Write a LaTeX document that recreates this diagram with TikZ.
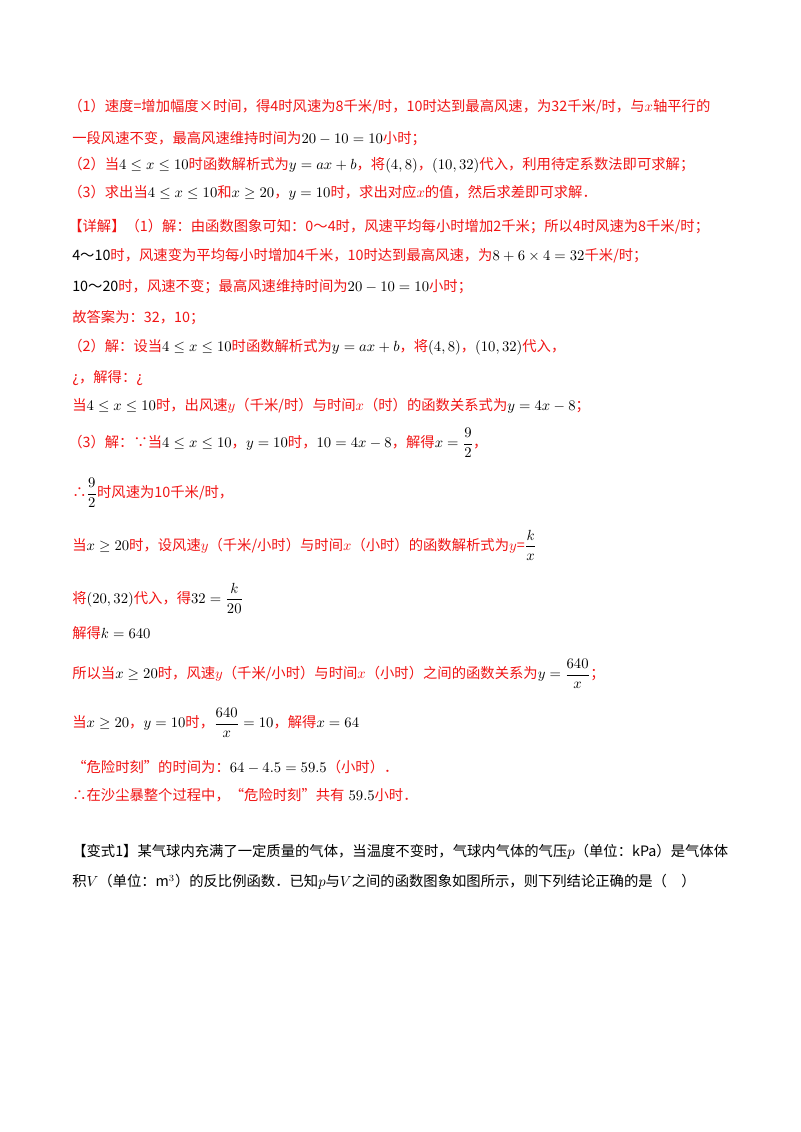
\documentclass[tikz,border=0pt]{standalone}
\usepackage{fontspec}
\usepackage{amsmath,amssymb}
\setmainfont{Noto Sans CJK SC}
\definecolor{ansred}{RGB}{240,20,20}
\newcommand{\mb}[1]{\textcolor{black}{$#1$}}
\tikzset{
    ln/.style={anchor=west, inner sep=0pt, font=\fontsize{10.7}{12.8}\selectfont},
    rl/.style={ln, text=ansred},
}
\begin{document}
\begin{tikzpicture}[x=0.02625cm, y=-0.02625cm]
    \useasboundingbox (0,0) rectangle (800,1132);

    \node[rl] (a1) at (68,107) {（1）速度=增加幅度×时间，得4时风速为8千米/时，10时达到最高风速，为32千米/时，与$x$轴平行的};
    \node[rl] (a2) at (72,139) {一段风速不变，最高风速维持时间为\mb{20-10=10}小时；};
    \node[rl] (a3) at (68,165) {（2）当\mb{4\le x\le 10}时函数解析式为\mb{y=ax+b}，将\mb{(4,8)}，\mb{(10,32)}代入，利用待定系数法即可求解；};
    \node[rl] (a4) at (68,193) {（3）求出当\mb{4\le x\le 10}和\mb{x\ge 20}，\mb{y=10}时，求出对应$x$的值，然后求差即可求解．};
    \node[rl] (b1) at (68,227) {【详解】（1）解：由函数图象可知：0～4时，风速平均每小时增加2千米；所以4时风速为8千米/时；};
    \node[rl] (b2) at (72,256) {\textcolor{black}{4～10}时，风速变为平均每小时增加4千米，10时达到最高风速，为\mb{8+6\times 4=32}千米/时；};
    \node[rl] (b3) at (72,287) {\textcolor{black}{10～20}时，风速不变；最高风速维持时间为\mb{20-10=10}小时；};
    \node[rl] (b4) at (72,318) {故答案为：32，10；};
    \node[rl] (c1) at (68,347) {（2）解：设当\mb{4\le x\le 10}时函数解析式为\mb{y=ax+b}，将\mb{(4,8)}，\mb{(10,32)}代入，};
    \node[rl] (c2) at (72,378) {¿，解得：¿};
    \node[rl] (c3) at (72,406) {当\mb{4\le x\le 10}时，出风速$y$（千米/时）与时间$x$（时）的函数关系式为\mb{y=4x-8}；};
    \node[rl] (d1) at (68,443) {（3）解：∵当\mb{4\le x\le 10}，\mb{y=10}时，\mb{10=4x-8}，解得\mb{x=\dfrac{9}{2}}，};
    \node[rl] (d2) at (72,493) {∴\mb{\dfrac{9}{2}}时风速为10千米/时，};
    \node[rl] (d3) at (72,545) {当\mb{x\ge 20}时，设风速$y$（千米/小时）与时间$x$（小时）的函数解析式为$y$=\mb{\dfrac{k}{x}}};
    \node[rl] (d4) at (72,598) {将\mb{(20,32)}代入，得\mb{32=\dfrac{k}{20}}};
    \node[rl] (d5) at (72,633) {解得\mb{k=640}};
    \node[rl] (d6) at (72,674) {所以当\mb{x\ge 20}时，风速$y$（千米/小时）与时间$x$（小时）之间的函数关系为\mb{y=\dfrac{640}{x}}；};
    \node[rl] (d7) at (72,723) {当\mb{x\ge 20}，\mb{y=10}时，\mb{\dfrac{640}{x}=10}，解得\mb{x=64}};
    \node[rl] (d8) at (72,767) {“危险时刻”的时间为：\mb{64-4.5=59.5}（小时）．};
    \node[rl] (d9) at (72,795) {∴在沙尘暴整个过程中，“危险时刻”共有\mb{\;59.5}小时．};

    \node[ln] (e1) at (72,852) {【变式1】某气球内充满了一定质量的气体，当温度不变时，气球内气体的气压$p$（单位：kPa）是气体体};
    \node[ln] (e2) at (72,882) {积$V$（单位：m$^3$）的反比例函数．已知$p$与$V$之间的函数图象如图所示，则下列结论正确的是（\quad）};
\end{tikzpicture}
\end{document}
